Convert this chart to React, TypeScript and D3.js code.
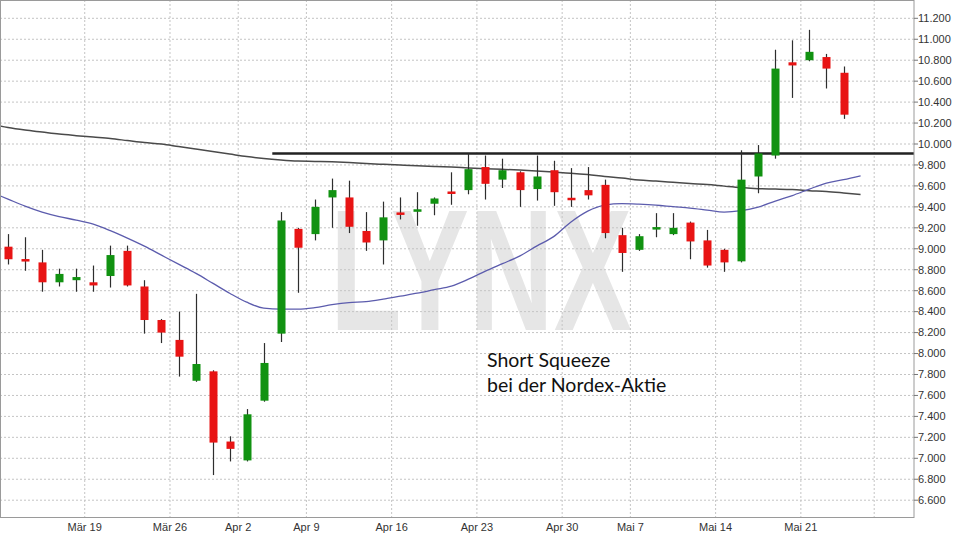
import React from "react";
import * as d3 from "d3";

// Daily candles, Nordex, 12 Mar – 23 May
const dates = [
  "2018-03-12", "2018-03-13", "2018-03-14", "2018-03-15", "2018-03-16",
  "2018-03-19", "2018-03-20", "2018-03-21", "2018-03-22", "2018-03-23",
  "2018-03-26", "2018-03-27", "2018-03-28", "2018-03-29", "2018-04-03",
  "2018-04-04", "2018-04-05", "2018-04-06", "2018-04-09", "2018-04-10",
  "2018-04-11", "2018-04-12", "2018-04-13", "2018-04-16", "2018-04-17",
  "2018-04-18", "2018-04-19", "2018-04-20", "2018-04-23", "2018-04-24",
  "2018-04-25", "2018-04-26", "2018-04-27", "2018-04-30", "2018-05-02",
  "2018-05-03", "2018-05-04", "2018-05-07", "2018-05-08", "2018-05-09",
  "2018-05-10", "2018-05-11", "2018-05-14", "2018-05-15", "2018-05-16",
  "2018-05-17", "2018-05-18", "2018-05-21", "2018-05-22", "2018-05-23",
];
const opens = [
  9.02, 8.9, 8.87, 8.68, 8.7, 8.68, 8.74, 8.98, 8.64, 8.32,
  8.13, 7.74, 7.83, 7.16, 6.98, 7.55, 8.19, 9.19, 9.14, 9.49,
  9.49, 9.17, 9.08, 9.34, 9.36, 9.43, 9.54, 9.56, 9.78, 9.66,
  9.73, 9.57, 9.75, 9.48, 9.56, 9.61, 9.13, 8.99, 9.19, 9.14,
  9.25, 9.08, 8.99, 8.88, 9.69, 9.89, 10.78, 10.8, 10.83, 10.68,
];
const highs = [
  9.14, 9.11, 8.99, 8.81, 8.81, 8.84, 9.03, 9.03, 8.7, 8.33,
  8.4, 8.57, 7.84, 7.21, 7.47, 8.1, 9.35, 9.2, 9.47, 9.67,
  9.65, 9.35, 9.45, 9.49, 9.54, 9.49, 9.73, 9.91, 9.89, 9.86,
  9.74, 9.89, 9.84, 9.77, 9.78, 9.66, 9.2, 9.14, 9.34, 9.34,
  9.26, 9.18, 9.0, 9.94, 9.99, 10.9, 10.99, 11.09, 10.86, 10.74,
];
const lows = [
  8.85, 8.79, 8.59, 8.64, 8.59, 8.59, 8.63, 8.64, 8.19, 8.1,
  7.78, 7.73, 6.84, 6.97, 6.97, 7.54, 8.11, 8.58, 9.08, 9.2,
  9.15, 8.98, 8.85, 9.28, 9.22, 9.32, 9.42, 9.52, 9.47, 9.58,
  9.4, 9.46, 9.41, 9.4, 9.47, 9.1, 8.78, 8.98, 9.11, 9.13,
  8.9, 8.82, 8.78, 8.87, 9.53, 9.86, 10.44, 10.79, 10.53, 10.24,
];
const closes = [
  8.9, 8.88, 8.68, 8.76, 8.73, 8.65, 8.94, 8.65, 8.32, 8.2,
  7.97, 7.9, 7.15, 7.09, 7.42, 7.91, 9.27, 9.01, 9.4, 9.56,
  9.21, 9.06, 9.3, 9.33, 9.37, 9.48, 9.53, 9.76, 9.62, 9.75,
  9.56, 9.69, 9.54, 9.47, 9.51, 9.15, 8.96, 9.12, 9.2, 9.2,
  9.07, 8.84, 8.87, 9.66, 9.91, 10.72, 10.75, 10.88, 10.72, 10.28,
];

// Moving averages, one value per trading-day slot starting one slot before the first candle
const maStartIndex = -1;
const maLong = [
  10.19, 10.157, 10.133, 10.114, 10.095, 10.08, 10.066, 10.052, 10.033, 10.014,
  10.0, 9.976, 9.952, 9.928, 9.904, 9.88, 9.861, 9.847, 9.837, 9.834,
  9.83, 9.823, 9.813, 9.806, 9.799, 9.792, 9.786, 9.78, 9.772, 9.765,
  9.758, 9.751, 9.742, 9.732, 9.722, 9.708, 9.689, 9.675, 9.656, 9.646,
  9.634, 9.622, 9.613, 9.598, 9.584, 9.574, 9.57, 9.565, 9.555, 9.546,
  9.533, 9.519,
];
const maShort = [
  9.541, 9.474, 9.407, 9.35, 9.307, 9.274, 9.235, 9.173, 9.102, 9.025,
  8.939, 8.853, 8.767, 8.672, 8.576, 8.49, 8.433, 8.423, 8.423, 8.438,
  8.466, 8.486, 8.495, 8.519, 8.548, 8.576, 8.61, 8.643, 8.71, 8.786,
  8.858, 8.93, 9.025, 9.116, 9.254, 9.36, 9.417, 9.431, 9.426, 9.417,
  9.402, 9.388, 9.369, 9.35, 9.364, 9.398, 9.455, 9.508, 9.57, 9.627,
  9.66, 9.697,
];

// Resistance level drawn from the early-April breakout onwards
const resistanceLevel = 9.91;
const resistanceFromIndex = 15.5;

// Axis ticks
const yTickValues = [
  6.6, 6.8, 7.0, 7.2, 7.4, 7.6, 7.8, 8.0, 8.2, 8.4, 8.6, 8.8,
  9.0, 9.2, 9.4, 9.6, 9.8, 10.0, 10.2, 10.4, 10.6, 10.8, 11.0, 11.2,
];
const xTickSlots = [4.5, 9.5, 13.5, 17.5, 22.5, 27.5, 32.5, 36.5, 41.5, 46.5, 50.8];
const xTickLabels = [
  "Mär 19", "Mär 26", "Apr 2", "Apr 9", "Apr 16", "Apr 23",
  "Apr 30", "Mai 7", "Mai 14", "Mai 21", "",
];

const W = 960;
const H = 540;
const plot = { left: 0, top: 0, right: 914, bottom: 517 };

const RED = "#e81414";
const GREEN = "#119211";
const WICK = "#2e2e2e";
const GRID = "#c4c4c4";

export default function App() {
  const x = d3.scaleLinear().domain([0, dates.length - 1]).range([8, 843.5]);
  const y = d3.scaleLinear().domain([6.6, 11.2]).range([500.2, 18.3]);

  const candles = dates.map((d, i) => ({
    date: d,
    i,
    open: opens[i],
    high: highs[i],
    low: lows[i],
    close: closes[i],
  }));

  const maLine = d3
    .line<number>()
    .x((_, k) => x(k + maStartIndex))
    .y((v) => y(v))
    .curve(d3.curveMonotoneX);

  const bodyW = 8;

  return (
    <svg
      width={W}
      height={H}
      style={{ position: "absolute", left: 0, top: 0, background: "#fff" }}
      fontFamily="'Liberation Sans', Arial, sans-serif"
    >
      <defs>
        <clipPath id="plot-area">
          <rect
            x={plot.left}
            y={plot.top}
            width={plot.right - plot.left}
            height={plot.bottom - plot.top}
          />
        </clipPath>
      </defs>

      {/* watermark */}
      <text
        x={330}
        y={330}
        fontSize={172}
        fontWeight="bold"
        fill="#e6e6e6"
        textLength={302}
        lengthAdjust="spacingAndGlyphs"
        fontFamily="'Liberation Sans', Arial, sans-serif"
      >
        LYNX
      </text>

      {/* horizontal grid */}
      {yTickValues.map((v) => (
        <line
          key={"h" + v}
          x1={plot.left}
          x2={plot.right}
          y1={y(v)}
          y2={y(v)}
          stroke={GRID}
          strokeDasharray="2,2"
          strokeWidth={1}
        />
      ))}

      {/* vertical grid */}
      {xTickSlots.map((s) => (
        <line
          key={"v" + s}
          x1={x(s)}
          x2={x(s)}
          y1={plot.top}
          y2={plot.bottom}
          stroke={GRID}
          strokeDasharray="2,2"
          strokeWidth={1}
        />
      ))}

      <g clipPath="url(#plot-area)">
        <path d={maLine(maLong) || ""} fill="none" stroke="#4a4a4a" strokeWidth={1.5} />
        <path d={maLine(maShort) || ""} fill="none" stroke="#5c5cad" strokeWidth={1.3} />

        <line
          x1={x(resistanceFromIndex)}
          x2={plot.right}
          y1={y(resistanceLevel)}
          y2={y(resistanceLevel)}
          stroke="#222"
          strokeWidth={2.5}
        />

        {candles.map((c) => {
          const up = c.close >= c.open;
          const top = y(Math.max(c.open, c.close));
          const bot = y(Math.min(c.open, c.close));
          const h = Math.max(bot - top, 2.5);
          const cx = Math.round(x(c.i)) + 0.5;
          return (
            <g key={c.date}>
              <line x1={cx} x2={cx} y1={y(c.high)} y2={y(c.low)} stroke={WICK} strokeWidth={1.2} />
              <rect
                x={cx - bodyW / 2}
                y={bot - top < 2.5 ? (top + bot) / 2 - 1.25 : top}
                width={bodyW}
                height={h}
                fill={up ? GREEN : RED}
              />
            </g>
          );
        })}
      </g>

      {/* frame */}
      <rect
        x={plot.left + 0.5}
        y={plot.top + 0.5}
        width={plot.right - plot.left - 0.5}
        height={plot.bottom - plot.top}
        fill="none"
        stroke="#9a9a9a"
        strokeWidth={1}
      />

      {/* y axis */}
      {yTickValues.map((v) => (
        <g key={"yt" + v}>
          <line x1={plot.right} x2={plot.right + 4} y1={y(v)} y2={y(v)} stroke="#777" />
          <text
            x={plot.right + 4}
            y={y(v)}
            dy="0.35em"
            fontSize={11}
            fill="#333"
          >
            {v.toFixed(3)}
          </text>
        </g>
      ))}

      {/* x axis labels */}
      {xTickSlots.map((s, k) =>
        xTickLabels[k] ? (
          <text
            key={"xt" + s}
            x={x(s)}
            y={531}
            textAnchor="middle"
            fontSize={11}
            fill="#333"
          >
            {xTickLabels[k]}
          </text>
        ) : null
      )}

      {/* annotation */}
      <g fontFamily="Lato, 'Open Sans', sans-serif" fontSize={19.5} fill="#111">
        <text x={487} y={367}>Short Squeeze</text>
        <text x={487} y={392}>bei der Nordex-Aktie</text>
      </g>
    </svg>
  );
}
